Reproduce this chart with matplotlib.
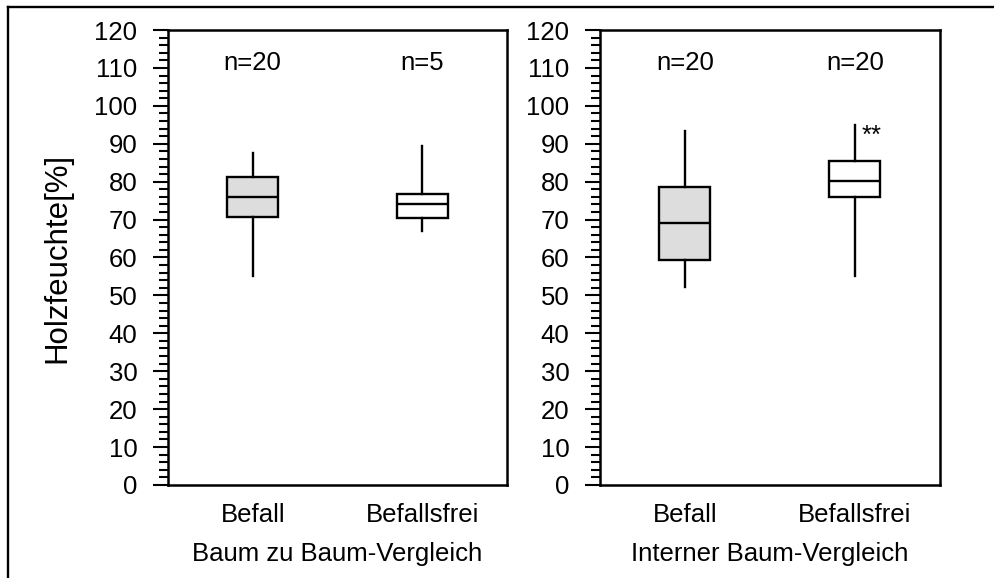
import matplotlib
matplotlib.use('Agg')
import matplotlib.pyplot as plt
from matplotlib.lines import Line2D
from matplotlib.ticker import MultipleLocator

plt.rcParams['font.family'] = ['Liberation Sans', 'DejaVu Sans']

# box plot statistics (Holzfeuchte in %)
groups = ['Baum zu Baum-Vergleich', 'Interner Baum-Vergleich']
categories = ['Befall', 'Befallsfrei']
whisker_low = [[55.0, 67.0], [52.3, 55.0]]
quartile_1 = [[70.6, 70.4], [59.3, 76.0]]
medians = [[76.0, 74.0], [69.0, 80.2]]
quartile_3 = [[81.2, 76.8], [78.5, 85.5]]
whisker_high = [[87.5, 89.3], [93.3, 95.0]]
n_labels = [['n=20', 'n=5'], ['n=20', 'n=20']]
box_colors = ['#dddddd', 'white']
ylabel = 'Holzfeuchte[%]'
significance = '**'

fs = 18.5

fig = plt.figure(figsize=(9.94, 5.78), dpi=100)

# outer frame (only left and top visible in the cut-out)
fig.add_artist(Line2D([0.008, 0.008], [0.0, 0.988], transform=fig.transFigure,
                      color='black', lw=1.7))
fig.add_artist(Line2D([0.008, 1.0], [0.988, 0.988], transform=fig.transFigure,
                      color='black', lw=1.7))

axes_pos = [[0.169, 0.161, 0.341, 0.787], [0.6036, 0.161, 0.342, 0.787]]

for g in range(2):
    ax = fig.add_axes(axes_pos[g])
    stats = []
    for i in range(2):
        stats.append({'whislo': whisker_low[g][i], 'q1': quartile_1[g][i],
                      'med': medians[g][i], 'q3': quartile_3[g][i],
                      'whishi': whisker_high[g][i], 'fliers': []})
    bp = ax.bxp(stats, positions=[1, 2], widths=0.30, patch_artist=True,
                showcaps=False, showfliers=False,
                boxprops=dict(linewidth=1.7, edgecolor='black'),
                whiskerprops=dict(linewidth=1.7, color='black'),
                medianprops=dict(linewidth=1.7, color='black'))
    for patch, c in zip(bp['boxes'], box_colors):
        patch.set_facecolor(c)

    for i in range(2):
        ax.text(i + 1, 111.3, n_labels[g][i], ha='center', va='center', fontsize=fs)

    ax.set_xlim(0.5, 2.5)
    ax.set_ylim(0, 120)
    ax.yaxis.set_major_locator(MultipleLocator(10))
    ax.yaxis.set_minor_locator(MultipleLocator(2))
    ax.tick_params(axis='y', which='major', length=11, width=1.5, pad=11, labelsize=fs)
    ax.tick_params(axis='y', which='minor', length=6.3, width=1.5)
    ax.set_xticks([1, 2])
    ax.set_xticklabels(categories)
    ax.tick_params(axis='x', length=0, pad=13, labelsize=fs)
    for s in ax.spines.values():
        s.set_linewidth(1.8)

    ax.text(0.5, -0.152, groups[g], transform=ax.transAxes, ha='center',
            va='center', fontsize=fs)

    if g == 0:
        ax.set_ylabel(ylabel, fontsize=22.5, labelpad=16)
    else:
        ax.text(2.04, 92.0, significance, ha='left', va='center', fontsize=fs)

fig.savefig('out.png', dpi=100)
